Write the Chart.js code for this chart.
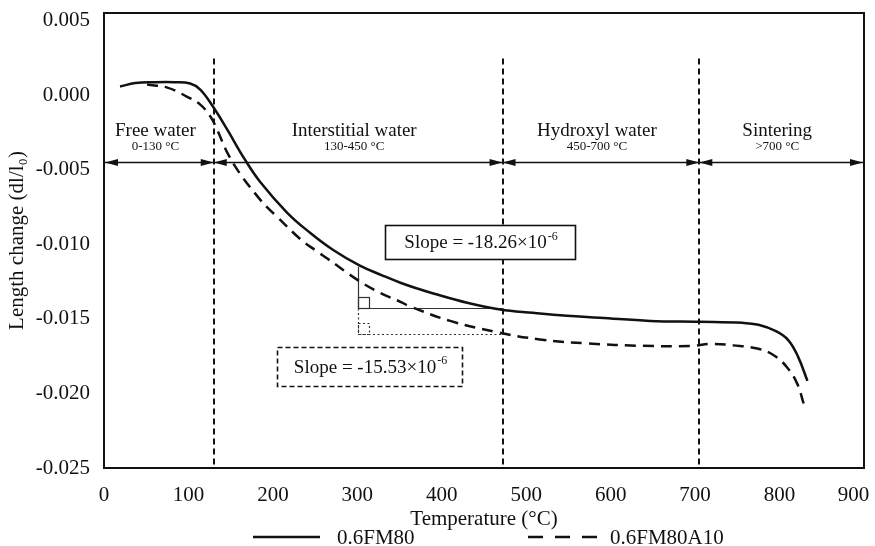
<!DOCTYPE html>
<html>
<head>
<meta charset="utf-8">
<title>Dilatometry</title>
<script src="https://cdn.jsdelivr.net/npm/chart.js@4.4.1/dist/chart.umd.min.js"></script>
<style>
  html, body { margin: 0; padding: 0; background: #fff; }
  #wrap { width: 875px; height: 546px; }
</style>
</head>
<body>
<div id="wrap"><canvas id="dilatometry"></canvas></div>
<script>
// Temperature (°C) and length change dl/l0 for the two mixes
const tempFM80 = [19, 37, 60, 84, 102, 114, 129, 146, 166, 185, 217, 244, 271, 303, 330, 351, 371, 390, 430, 469, 508, 548, 587, 647, 705, 756, 775, 795, 810, 822, 833];
const lengthFM80 = [0.00057, 0.0008, 0.00086, 0.00086, 0.00077, 0.00037, -0.00077, -0.00232, -0.00425, -0.00583, -0.00789, -0.00923, -0.01037, -0.01144, -0.0121, -0.01258, -0.01297, -0.0133, -0.01392, -0.01437, -0.0146, -0.0148, -0.01493, -0.01514, -0.0152, -0.01527, -0.0154, -0.01581, -0.01641, -0.01755, -0.01916];

const tempFM80A10 = [51, 75, 98, 114, 126, 134, 146, 161, 182, 193, 205, 232, 252, 264, 301, 327, 351, 362, 410, 463, 516, 572, 638, 698, 718, 745, 775, 794, 809, 821, 829];
const lengthFM80A10 = [0.0007, 0.0005, -0.0001, -0.00064, -0.00144, -0.00232, -0.00386, -0.00527, -0.00681, -0.00752, -0.00816, -0.00963, -0.01047, -0.01094, -0.01242, -0.01326, -0.01386, -0.01416, -0.01514, -0.01587, -0.01638, -0.01665, -0.01681, -0.01681, -0.01668, -0.01678, -0.01701, -0.01748, -0.01826, -0.01936, -0.02077];

const seriesNames = ['0.6FM80', '0.6FM80A10'];

// axis ticks
const tempTicks = [0, 100, 200, 300, 400, 500, 600, 700, 800, 900];
const lengthTicks = [0.005, 0, -0.005, -0.01, -0.015, -0.02, -0.025];

// water-loss stages
const stageEdges = [0, 130, 472, 705, 900];
const stageNames = ['Free water', 'Interstitial water', 'Hydroxyl water', 'Sintering'];
const stageRanges = ['0-130 \u00B0C', '130-450 \u00B0C', '450-700 \u00B0C', '>700 \u00B0C'];
const stageLevel = -0.0045;
const dividerTop = 0.00245;

// secant triangles used for the slopes
const slopeStart = 301;
const slopeEnd = 472;
const slopeSolidTop = -0.01151;
const slopeSolidBase = -0.01426;
const slopeDashedBase = -0.01601;
const slopeTexts = ['-18.26\u00D710', '-15.53\u00D710'];
const slopeExponent = '-6';

const SERIF = '"Liberation Serif", "Times New Roman", serif';
const INK = '#111';

function toPoints(xs, ys) {
  return xs.map((t, i) => ({ x: t, y: ys[i] }));
}

function arrowHead(ctx, x, y, dir) {
  ctx.beginPath();
  ctx.moveTo(x, y);
  ctx.lineTo(x - dir * 13, y - 3.5);
  ctx.lineTo(x - dir * 13, y + 3.5);
  ctx.closePath();
  ctx.fill();
}

function slopeLabel(ctx, cx, cy, base) {
  ctx.font = '19px ' + SERIF;
  const head = 'Slope = ' + base;
  const w1 = ctx.measureText(head).width;
  ctx.font = '12px ' + SERIF;
  const w2 = ctx.measureText(slopeExponent).width;
  const x0 = cx - (w1 + w2) / 2;
  ctx.textAlign = 'left';
  ctx.textBaseline = 'middle';
  ctx.font = '19px ' + SERIF;
  ctx.fillText(head, x0, cy);
  ctx.font = '12px ' + SERIF;
  ctx.fillText(slopeExponent, x0 + w1 + 1, cy - 7);
}

// no extra room for the outer tick labels, the frame fills the canvas
function tightPadding(s) {
  s.paddingLeft = 0;
  s.paddingRight = 0;
  s.paddingTop = 0;
  s.paddingBottom = 0;
}

const stagePlugin = {
  id: 'stages',
  beforeDatasetsDraw(chart) {
    const { ctx, chartArea: area, scales: { x, y } } = chart;
    ctx.save();
    ctx.strokeStyle = INK;
    ctx.fillStyle = INK;

    // stage boundaries
    ctx.lineWidth = 2;
    ctx.setLineDash([6, 4]);
    stageEdges.slice(1, -1).forEach(t => {
      const px = Math.round(x.getPixelForValue(t));
      ctx.beginPath();
      ctx.moveTo(px, y.getPixelForValue(dividerTop));
      ctx.lineTo(px, area.bottom);
      ctx.stroke();
    });
    ctx.setLineDash([]);

    // double arrows for each stage
    const ay = Math.round(y.getPixelForValue(stageLevel)) + 0.5;
    ctx.lineWidth = 1.5;
    for (let i = 0; i < stageNames.length; i++) {
      const x0 = Math.max(area.left, x.getPixelForValue(stageEdges[i])) + (i === 0 ? 1 : 0);
      const x1 = Math.min(area.right, x.getPixelForValue(stageEdges[i + 1])) - (i === stageNames.length - 1 ? 1 : 0);
      ctx.beginPath();
      ctx.moveTo(x0, ay);
      ctx.lineTo(x1, ay);
      ctx.stroke();
      arrowHead(ctx, x0, ay, -1);
      arrowHead(ctx, x1, ay, 1);

      const cx = (x0 + x1) / 2 - 4;
      ctx.textAlign = 'center';
      ctx.textBaseline = 'middle';
      ctx.font = '19px ' + SERIF;
      ctx.fillText(stageNames[i], cx, ay - 31);
      ctx.font = '13px ' + SERIF;
      ctx.fillText(stageRanges[i], cx, ay - 16);
    }

    // slope triangles
    const sx = Math.round(x.getPixelForValue(slopeStart)) + 0.5;
    const ex = x.getPixelForValue(slopeEnd);
    const top = y.getPixelForValue(slopeSolidTop);
    const base = Math.round(y.getPixelForValue(slopeSolidBase)) + 0.5;
    const low = Math.round(y.getPixelForValue(slopeDashedBase)) + 0.5;
    ctx.lineWidth = 1.2;
    ctx.strokeStyle = '#333';
    ctx.beginPath();
    ctx.moveTo(sx, top);
    ctx.lineTo(sx, base);
    ctx.lineTo(ex, base);
    ctx.stroke();
    ctx.strokeRect(sx, base - 11, 11, 11);

    ctx.setLineDash([2, 2.5]);
    ctx.beginPath();
    ctx.moveTo(sx, base);
    ctx.lineTo(sx, low);
    ctx.lineTo(ex, low);
    ctx.stroke();
    ctx.strokeRect(sx, low - 11, 11, 11);
    ctx.restore();
  },
  afterDraw(chart) {
    const { ctx, chartArea: area, scales: { x, y } } = chart;
    ctx.save();
    ctx.strokeStyle = INK;
    ctx.fillStyle = INK;

    // slope boxes
    const boxes = [
      { t0: 333, t1: 558, v0: -0.00869, v1: -0.01104, dash: [] },
      { t0: 205, t1: 425, v0: -0.01688, v1: -0.01956, dash: [5, 3] }
    ];
    boxes.forEach((b, i) => {
      const bx = Math.round(x.getPixelForValue(b.t0)) + 0.5;
      const bw = Math.round(x.getPixelForValue(b.t1) - bx);
      const by = Math.round(y.getPixelForValue(b.v0)) + 0.5;
      const bh = Math.round(y.getPixelForValue(b.v1) - by);
      ctx.fillStyle = '#fff';
      ctx.fillRect(bx, by, bw, bh);
      ctx.lineWidth = 1.6;
      ctx.setLineDash(b.dash);
      ctx.strokeRect(bx, by, bw, bh);
      ctx.setLineDash([]);
      ctx.fillStyle = INK;
      slopeLabel(ctx, bx + bw / 2, by + bh / 2 + 1, slopeTexts[i]);
    });

    // plot frame
    ctx.lineWidth = 2;
    ctx.strokeRect(area.left, area.top, area.right - area.left, area.bottom - area.top);

    // legend under the axis title
    const ly = area.bottom + 69;
    const cx = (area.left + area.right) / 2;
    const items = [
      { x: cx - 231, len: 67 },
      { x: cx + 44, len: 70 }
    ];
    chart.data.datasets.forEach((ds, i) => {
      const it = items[i];
      ctx.lineWidth = 2.5;
      ctx.setLineDash(i === 0 ? [] : [15, 12]);
      ctx.beginPath();
      ctx.moveTo(it.x, ly);
      ctx.lineTo(it.x + it.len, ly);
      ctx.stroke();
      ctx.setLineDash([]);
      ctx.font = '21px ' + SERIF;
      ctx.textAlign = 'left';
      ctx.textBaseline = 'middle';
      ctx.fillText(ds.label, it.x + it.len + (i === 0 ? 17 : 12), ly + 1);
    });
    ctx.restore();
  }
};

const ctx = document.getElementById('dilatometry');
new Chart(ctx, {
  type: 'line',
  data: {
    datasets: [{
      label: seriesNames[0],
      data: toPoints(tempFM80, lengthFM80),
      borderColor: INK,
      borderWidth: 2.5,
      pointRadius: 0,
      tension: 0.4,
      fill: false
    }, {
      label: seriesNames[1],
      data: toPoints(tempFM80A10, lengthFM80A10),
      borderColor: INK,
      borderWidth: 2.5,
      borderDash: [11, 7],
      pointRadius: 0,
      tension: 0.4,
      fill: false
    }]
  },
  options: {
    responsive: true,
    maintainAspectRatio: false,
    animation: false,
    layout: { padding: { top: 13, right: 11, left: 0, bottom: 0 } },
    plugins: {
      legend: { display: false },
      tooltip: { enabled: false }
    },
    scales: {
      x: {
        type: 'linear',
        min: 0,
        max: 900,
        afterBuildTicks: s => { s.ticks = tempTicks.map(v => ({ value: v })); },
        afterFit: s => { s.height = 78; tightPadding(s); },
        grid: { display: false, drawTicks: false },
        border: { display: false },
        ticks: {
          color: INK,
          padding: 15,
          maxRotation: 0,
          font: { family: SERIF, size: 21 },
          // pad the last label so it stays inside the canvas edge
          callback: v => (v === 900 ? '900\u2002\u2002' : String(v))
        },
        title: {
          display: true,
          text: 'Temperature (\u00B0C)',
          color: INK,
          font: { family: SERIF, size: 21 },
          padding: { top: 0, bottom: 14 }
        }
      },
      y: {
        type: 'linear',
        min: -0.025,
        max: 0.0055,
        afterBuildTicks: s => { s.ticks = lengthTicks.map(v => ({ value: v })); },
        afterFit: s => { s.width = 104; tightPadding(s); },
        grid: { display: false, drawTicks: false },
        border: { display: false },
        ticks: {
          color: INK,
          padding: 14,
          font: { family: SERIF, size: 21 },
          callback: v => (Math.round(v * 1000) / 1000).toFixed(3).replace('-0.000', '0.000')
        },
        title: {
          display: true,
          text: 'Length change (dl/l\u2080)',
          color: INK,
          font: { family: SERIF, size: 21 },
          padding: { top: 5, bottom: 0 }
        }
      }
    }
  },
  plugins: [stagePlugin]
});
</script>
</body>
</html>
